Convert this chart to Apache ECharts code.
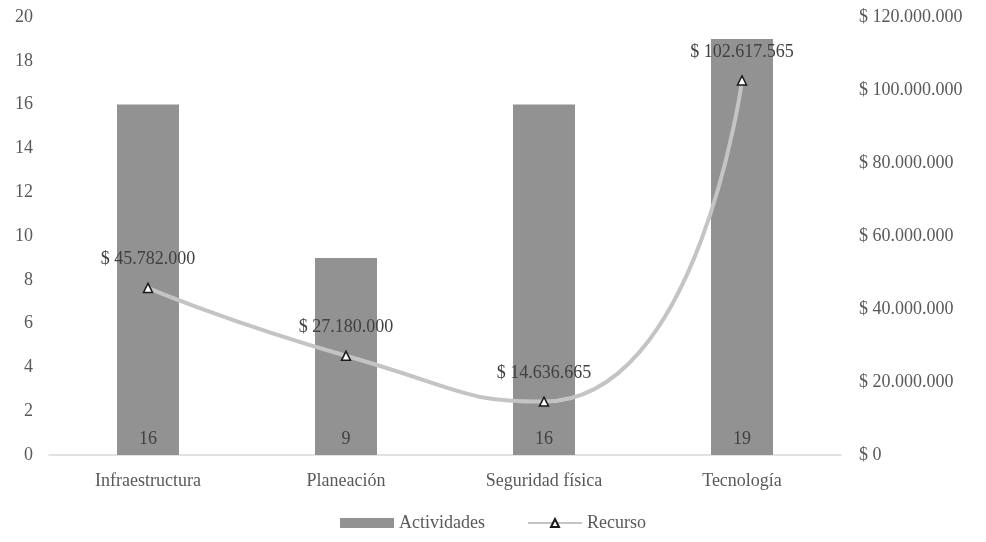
<!DOCTYPE html>
<html><head><meta charset="utf-8">
<script src="https://cdn.jsdelivr.net/npm/echarts@6/dist/echarts.min.js"></script>
<style>html,body{margin:0;padding:0;background:#fff}#c{width:986px;height:542px}</style>
</head><body><div id="c"></div>
<script>
const categories = ['Infraestructura', 'Planeación', 'Seguridad física', 'Tecnología'];
const actividades = [16, 9, 16, 19];
const recurso = [45782000, 27180000, 14636665, 102617565];

function fmtMoney(v) {
  return '$ ' + String(Math.round(v)).replace(/\B(?=(\d{3})+(?!\d))/g, '.');
}
const font = 'Liberation Serif';
const fs = 18;
const chart = echarts.init(document.getElementById('c'));
chart.setOption({
  animation: false,
  textStyle: { fontFamily: font },
  grid: { left: 49, right: 145, top: 17, bottom: 87 },
  legend: {
    bottom: 5, itemGap: 42, itemWidth: 54, itemHeight: 10,
    textStyle: { fontFamily: font, fontSize: fs, color: '#595959' },
    data: [{ name: 'Actividades', icon: 'rect' }, { name: 'Recurso' }]
  },
  xAxis: {
    type: 'category', data: categories,
    axisLine: { lineStyle: { color: '#d9d9d9', width: 1.5 } },
    axisTick: { show: false },
    axisLabel: { fontFamily: font, fontSize: fs, color: '#595959', margin: 17 }
  },
  yAxis: [{
    type: 'value', min: 0, max: 20, interval: 2,
    splitLine: { show: false },
    axisLabel: { fontFamily: font, fontSize: fs, color: '#595959', margin: 16 }
  }, {
    type: 'value', min: 0, max: 120000000, interval: 20000000,
    splitLine: { show: false },
    axisLabel: { fontFamily: font, fontSize: fs, color: '#595959', margin: 18, formatter: fmtMoney }
  }],
  series: [{
    name: 'Actividades', type: 'bar', data: actividades, barWidth: 62,
    itemStyle: { color: '#929292' },
    label: { show: true, position: 'insideBottom', distance: 7, fontFamily: font, fontSize: fs, color: '#404040' }
  }, {
    name: 'Recurso', type: 'line', yAxisIndex: 1, data: recurso, smooth: 0.6,
    lineStyle: { color: '#c4c4c4', width: 4 },
    symbol: 'triangle', symbolSize: 9,
    itemStyle: { color: '#ffffff', borderColor: '#1a1a1a', borderWidth: 1.5 },
    label: { show: true, position: 'top', distance: 14, fontFamily: font, fontSize: fs, color: '#404040', formatter: p => fmtMoney(p.value) }
  }]
});
</script></body></html>
